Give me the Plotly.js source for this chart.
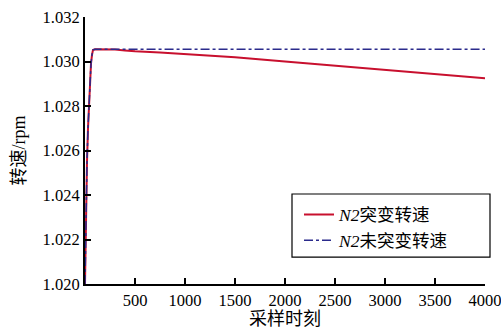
<!DOCTYPE html>
<html><head><meta charset="utf-8">
<script src="https://cdn.plot.ly/plotly-3.0.1.min.js"></script>
<style>html,body{margin:0;padding:0;background:#fff}#c{width:501px;height:329px}</style>
</head><body><div id="c"></div>
<script>
const xRed = [0, 10, 20, 30, 40, 50, 60, 70, 80, 100, 200, 300, 400, 500, 750, 1000, 1500, 2000, 2500, 3000, 3500, 4000];
const yRed = [1.0200, 1.0232, 1.0255, 1.0270, 1.0282, 1.0292, 1.0299, 1.0303, 1.03052, 1.03055, 1.03055, 1.03054, 1.0305, 1.03046, 1.0304, 1.03034, 1.03019, 1.03000, 1.02981, 1.02962, 1.02943, 1.02925];
const xBlue = [0, 10, 20, 30, 40, 50, 60, 70, 80, 100, 500, 1000, 2000, 3000, 4000];
const yBlue = [1.0200, 1.0232, 1.0255, 1.0270, 1.0282, 1.0292, 1.0299, 1.0303, 1.03052, 1.03055, 1.03055, 1.03055, 1.03055, 1.03055, 1.03055];
const xTicks = [500, 1000, 1500, 2000, 2500, 3000, 3500, 4000];
const yTicks = [1.020, 1.022, 1.024, 1.026, 1.028, 1.030, 1.032];
const yTickText = ['1.020', '1.022', '1.024', '1.026', '1.028', '1.030', '1.032'];
const names = ['<i>N2</i>突变转速', '<i>N2</i>未突变转速'];

const F = 'Liberation Serif, Noto Sans CJK SC, serif';
const data = [
  {x: xRed, y: yRed, name: names[0], type: 'scatter', mode: 'lines',
   line: {color: '#c8102e', width: 2}},
  {x: xBlue, y: yBlue, name: names[1], type: 'scatter', mode: 'lines',
   line: {color: '#2b2b8c', width: 1.5, dash: 'dashdot'}}
];
const layout = {
  width: 501, height: 329,
  margin: {l: 85, r: 16, t: 17, b: 45},
  paper_bgcolor: '#fff', plot_bgcolor: '#fff',
  font: {family: F, size: 16, color: '#000'},
  showlegend: true,
  legend: {x: 0.535, y: 0.3275, xanchor: 'left', yanchor: 'top',
    bgcolor: 'rgba(0,0,0,0)', borderwidth: 0,
    font: {family: F, size: 17.5, color: '#000'}, tracegroupgap: 0},
  shapes: [{type: 'rect', xref: 'paper', yref: 'paper', layer: 'above',
    x0: 0.5175, x1: 1.0125, y0: 0.101, y1: 0.337,
    fillcolor: '#fff', line: {color: '#000', width: 1.2}}],
  xaxis: {range: [0, 4000], tickvals: xTicks, ticktext: xTicks.map(String),
    ticklabeloverflow: 'allow',
    ticks: 'inside', ticklen: 6, tickwidth: 2, tickcolor: '#000',
    showline: true, linecolor: '#000', linewidth: 2, mirror: false,
    showgrid: false, zeroline: false,
    tickfont: {family: F, size: 16.5, color: '#000'},
    title: {text: '采样时刻', font: {family: F, size: 18, color: '#000'}, standoff: 0}},
  yaxis: {range: [1.020, 1.032], tickvals: yTicks, ticktext: yTickText,
    ticks: 'inside', ticklen: 6, tickwidth: 2, tickcolor: '#000',
    showline: true, linecolor: '#000', linewidth: 2, mirror: false,
    showgrid: false, zeroline: false,
    tickfont: {family: F, size: 16.5, color: '#000'},
    title: {text: '转速/rpm', font: {family: F, size: 18, color: '#000'}, standoff: 12}}
};
Plotly.newPlot('c', data, layout, {staticPlot: true, displayModeBar: false});
</script></body></html>
